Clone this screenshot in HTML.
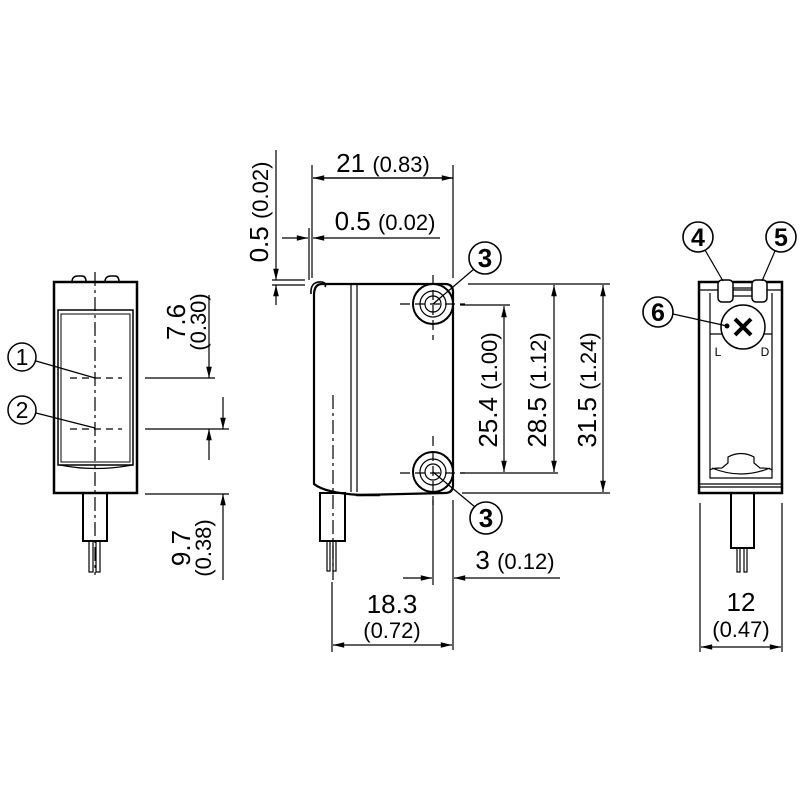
<!DOCTYPE html>
<html><head><meta charset="utf-8"><style>html,body{margin:0;padding:0;background:#fff}svg{display:block}</style></head><body>
<svg width="800" height="800" viewBox="0 0 800 800" xmlns="http://www.w3.org/2000/svg" font-family="Liberation Sans, DejaVu Sans, sans-serif">
<defs>
<marker id="a" viewBox="0 0 14 10" refX="14" refY="5" markerWidth="14" markerHeight="8" markerUnits="userSpaceOnUse" orient="auto-start-reverse"><path d="M0,1.5 L14,5 L0,8.5z" fill="#000"/></marker>
</defs>
<g stroke="#000" fill="none" stroke-width="1.2">
<path d="M72,282 Q72,276 78,276 L82,276 Q86,276 86,282 M105,282 Q105,276 111,276 L115,276 Q119,276 119,282" stroke-width="1.5"/>
<rect x="54" y="282" width="83" height="211" stroke-width="2.5"/>
<rect x="58" y="310" width="75" height="155" stroke-width="1.5"/>
<rect x="61" y="314" width="69" height="148" stroke-width="1"/>
<path d="M60,465 Q95,472 132,465"/>
<line x1="95" y1="272" x2="95" y2="575" stroke-dasharray="14,4,3,4"/>
<line x1="70" y1="378" x2="122" y2="378" stroke-dasharray="7,5"/>
<line x1="70" y1="429" x2="122" y2="429" stroke-dasharray="7,5"/>
<rect x="83" y="493" width="24" height="48" stroke-width="2"/>
<rect x="89" y="541" width="4" height="31"/>
<rect x="96" y="541" width="4" height="31"/>
<line x1="145" y1="378" x2="215" y2="378"/>
<line x1="145" y1="429" x2="229" y2="429"/>
<line x1="145" y1="494" x2="229" y2="494"/>
<line x1="209" y1="295" x2="209" y2="378" marker-end="url(#a)"/>
<line x1="209" y1="460" x2="209" y2="429" marker-end="url(#a)"/>
<line x1="223" y1="397" x2="223" y2="429" marker-end="url(#a)"/>
<line x1="223" y1="580" x2="223" y2="494" marker-end="url(#a)"/>
<circle cx="22" cy="357" r="14" stroke-width="1.5"/><line x1="36" y1="361" x2="95" y2="378"/>
<circle cx="22" cy="410" r="14" stroke-width="1.5"/><line x1="36" y1="413" x2="95" y2="428"/>

<path d="M322,284 L445,284 Q453,284 453,292 L453,485 Q453,493 445,493 L360,495 Q325,493 314,484 L314,295 Q314,284 322,284Z" stroke-width="2.2"/>
<path d="M311,294 Q310,281 322,282 Q327,283 325,287" stroke-width="1.6"/>
<line x1="351" y1="285" x2="351" y2="492"/>
<line x1="357" y1="285" x2="357" y2="492"/>
<line x1="356" y1="495" x2="380" y2="495" stroke-width="2.5"/>
<g fill="#fff"><circle cx="433" cy="304" r="20" stroke-width="2"/><circle cx="433" cy="472" r="20" stroke-width="2"/></g>
<circle cx="433" cy="304" r="13"/><circle cx="433" cy="304" r="8"/>
<circle cx="433" cy="472" r="13"/><circle cx="433" cy="472" r="8"/>
<g stroke-dasharray="10,5"><line x1="433" y1="275" x2="433" y2="340"/><line x1="400" y1="304" x2="465" y2="304"/><line x1="433" y1="436" x2="433" y2="505"/><line x1="400" y1="473" x2="465" y2="473"/></g>
<line x1="333" y1="395" x2="333" y2="580" stroke-dasharray="14,4,3,4"/>
<rect x="320" y="493" width="25" height="48" stroke-width="2"/>
<rect x="327" y="541" width="3" height="30"/><rect x="333" y="541" width="3" height="30"/>
<line x1="312" y1="165" x2="312" y2="278"/>
<line x1="453" y1="165" x2="453" y2="278"/>
<line x1="453" y1="178" x2="313" y2="178" marker-end="url(#a)"/>
<line x1="313" y1="178" x2="453" y2="178" marker-end="url(#a)"/>
<line x1="309" y1="228" x2="309" y2="280"/>
<line x1="282" y1="238" x2="308" y2="238" marker-end="url(#a)"/>
<line x1="440" y1="238" x2="313" y2="238" marker-end="url(#a)"/>
<line x1="276" y1="150" x2="276" y2="280" marker-end="url(#a)"/>
<line x1="276" y1="305" x2="276" y2="285" marker-end="url(#a)"/>
<line x1="272" y1="280" x2="305" y2="280"/>
<line x1="272" y1="285" x2="305" y2="285"/>
<line x1="468" y1="284" x2="610" y2="284"/>
<line x1="460" y1="305" x2="510" y2="305"/>
<line x1="460" y1="473" x2="558" y2="473"/>
<line x1="462" y1="493" x2="610" y2="493"/>
<line x1="504" y1="390" x2="504" y2="306" marker-end="url(#a)"/>
<line x1="504" y1="390" x2="504" y2="472" marker-end="url(#a)"/>
<line x1="554" y1="390" x2="554" y2="285" marker-end="url(#a)"/>
<line x1="554" y1="390" x2="554" y2="472" marker-end="url(#a)"/>
<line x1="603" y1="390" x2="603" y2="285" marker-end="url(#a)"/>
<line x1="603" y1="390" x2="603" y2="492" marker-end="url(#a)"/>
<line x1="433" y1="500" x2="433" y2="585"/>
<line x1="453" y1="500" x2="453" y2="650"/>
<line x1="332" y1="582" x2="332" y2="652"/>
<line x1="403" y1="578" x2="432" y2="578" marker-end="url(#a)"/>
<line x1="560" y1="578" x2="454" y2="578" marker-end="url(#a)"/>
<line x1="392" y1="645" x2="333" y2="645" marker-end="url(#a)"/>
<line x1="392" y1="645" x2="452" y2="645" marker-end="url(#a)"/>
<circle cx="485" cy="258" r="16" stroke-width="1.6"/><line x1="474" y1="269" x2="433" y2="304"/>
<circle cx="486" cy="518" r="16" stroke-width="1.6"/><line x1="475" y1="507" x2="433" y2="472"/>

<rect x="699" y="282" width="83" height="211" stroke-width="2.5"/>
<path d="M710,293 L710,478 L772,478 L772,293" stroke-width="1.2"/>
<line x1="700" y1="290" x2="781" y2="290"/>
<line x1="700" y1="484" x2="781" y2="484"/>
<line x1="700" y1="487" x2="781" y2="487"/>
<path d="M710,334 L722,334 M764,334 L772,334"/>
<path d="M712,468 Q741,480 770,468 M722,468 L728,463 L728,457 Q741,450 754,457 L754,463 L760,468 Q770,468 772,470 M710,470 Q712,468 722,468"/>
<rect x="718" y="280" width="15" height="22" rx="4" fill="#fff" stroke-width="1.5"/>
<rect x="752" y="280" width="15" height="22" rx="4" fill="#fff" stroke-width="1.5"/>
<line x1="733" y1="288" x2="752" y2="288"/><line x1="733" y1="296" x2="752" y2="296"/>
<circle cx="743" cy="327" r="22" fill="#fff" stroke-width="1.5"/>
<path d="M735,319 L751,335 M751,319 L735,335" stroke-width="4"/>
<rect x="731" y="493" width="23" height="55" stroke-width="2"/>
<rect x="737" y="548" width="3" height="24"/><rect x="744" y="548" width="3" height="24"/>
<line x1="700" y1="503" x2="700" y2="652"/>
<line x1="782" y1="503" x2="782" y2="652"/>
<line x1="741" y1="647" x2="701" y2="647" marker-end="url(#a)"/>
<line x1="741" y1="647" x2="781" y2="647" marker-end="url(#a)"/>
<circle cx="698" cy="237" r="15" stroke-width="1.6"/><line x1="705" y1="250" x2="723" y2="281"/>
<circle cx="781" cy="237" r="15" stroke-width="1.6"/><line x1="775" y1="251" x2="762" y2="281"/>
<circle cx="658" cy="312" r="15" stroke-width="1.6"/><line x1="673" y1="314" x2="727" y2="326"/>
</g>
<circle cx="727" cy="326" r="2.5" fill="#000"/>
<g fill="#000" font-size="26" text-anchor="middle">
<text x="22" y="365" font-size="23">1</text>
<text x="22" y="418" font-size="23">2</text>
<text x="485" y="267" font-size="26" font-weight="bold">3</text>
<text x="486" y="527" font-size="26" font-weight="bold">3</text>
<text x="698" y="246" font-size="25" font-weight="bold">4</text>
<text x="781" y="246" font-size="25" font-weight="bold">5</text>
<text x="658" y="321" font-size="25" font-weight="bold">6</text>
<text x="718" y="356" font-size="12">L</text>
<text x="765" y="356" font-size="12">D</text>
<text transform="translate(185,322) rotate(-90)">7.6</text>
<text transform="translate(206,322) rotate(-90)" font-size="22">(0.30)</text>
<text transform="translate(190,548) rotate(-90)">9.7</text>
<text transform="translate(211,548) rotate(-90)" font-size="22">(0.38)</text>
<text x="383" y="172"><tspan>21 </tspan><tspan font-size="22">(0.83)</tspan></text>
<text x="385" y="230"><tspan>0.5 </tspan><tspan font-size="22">(0.02)</tspan></text>
<text transform="translate(268,212) rotate(-90)"><tspan>0.5 </tspan><tspan font-size="22">(0.02)</tspan></text>
<text transform="translate(497,390) rotate(-90)"><tspan>25.4 </tspan><tspan font-size="22">(1.00)</tspan></text>
<text transform="translate(546,390) rotate(-90)"><tspan>28.5 </tspan><tspan font-size="22">(1.12)</tspan></text>
<text transform="translate(596,390) rotate(-90)"><tspan>31.5 </tspan><tspan font-size="22">(1.24)</tspan></text>
<text x="515" y="569"><tspan>3 </tspan><tspan font-size="22">(0.12)</tspan></text>
<text x="392" y="613">18.3</text>
<text x="392" y="638" font-size="22">(0.72)</text>
<text x="741" y="611">12</text>
<text x="741" y="637" font-size="22">(0.47)</text>
</g>
</svg>
</body></html>
